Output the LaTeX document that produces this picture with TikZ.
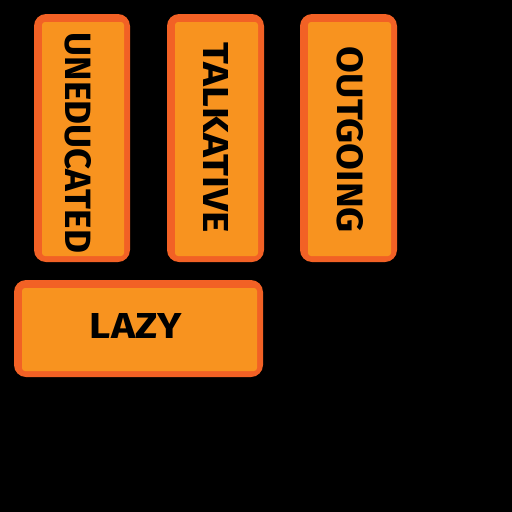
\documentclass[tikz,border=0pt]{standalone}
\usepackage{fontspec}
\setmainfont{Fira Sans}
\definecolor{boxedge}{HTML}{F26125}
\definecolor{boxfill}{HTML}{F8931F}
\tikzset{
  outerbox/.style={fill=boxedge, rounded corners=12pt},
  innerbox/.style={fill=boxfill, rounded corners=3pt},
  lbl/.style={inner sep=0pt, text=black, font=\bfseries}
}
\newcommand{\mybox}[5]{% x1 y1 x2 y2 name
  \fill[outerbox] (#1,#2) rectangle (#3,#4);
  \fill[innerbox] (#1+8,#2+8) rectangle (#3-6,#4-6);
}
\begin{document}
\begin{tikzpicture}[x=1pt,y=-1pt]
\fill[black] (0,0) rectangle (512,512);
\useasboundingbox (0,0) rectangle (512,512);
\mybox{34}{14}{130}{262}{a}
\mybox{167}{14}{264}{262}{b}
\mybox{300}{14}{397}{262}{c}
\mybox{14}{280}{263}{377}{d}
\node[lbl, rotate=-90] (uneducated) at (78.5,143) {\resizebox{220pt}{26pt}{UNEDUCATED}};
\node[lbl, rotate=-90] (talkative) at (215.5,138) {\resizebox{190pt}{25pt}{TALKATIVE}};
\node[lbl, rotate=-90] (outgoing) at (350,140) {\resizebox{186pt}{26pt}{OUTGOING}};
\node[lbl] (lazy) at (136,325.5) {\resizebox{92pt}{25pt}{LAZY}};
\end{tikzpicture}
\end{document}
